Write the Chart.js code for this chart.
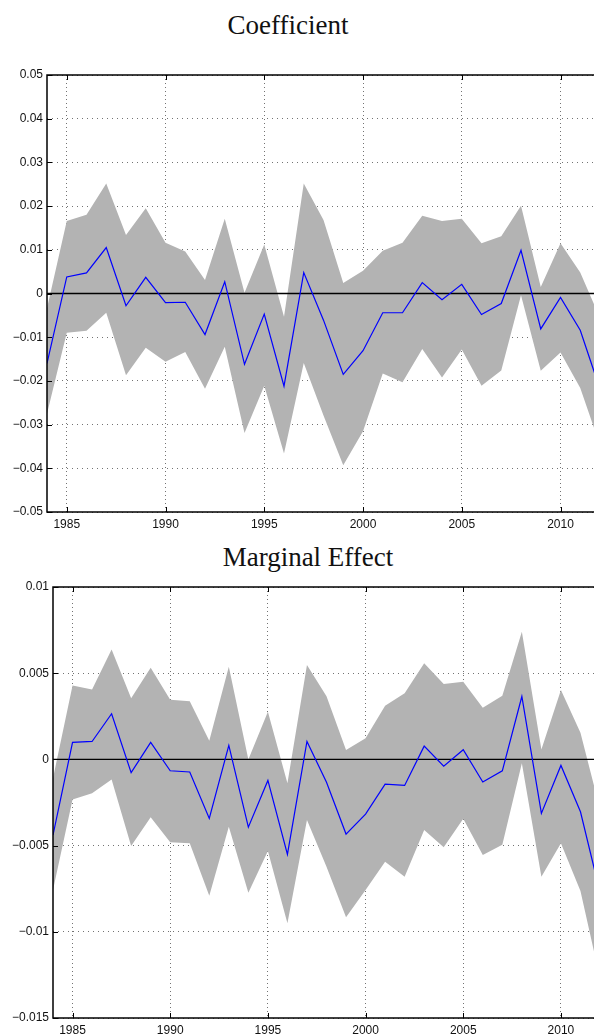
<!DOCTYPE html>
<html>
<head>
<meta charset="utf-8">
<script src="https://cdn.jsdelivr.net/npm/chart.js@4.4.1/dist/chart.umd.min.js"></script>
<style>
  html, body { margin: 0; padding: 0; background: #fff; }
  body { position: relative; width: 594px; height: 1036px; overflow: hidden; }
  canvas { position: absolute; left: 0; }
  .title {
    position: absolute; width: 300px; text-align: center;
    font-family: "Liberation Serif", serif; font-size: 27px; line-height: 27px; color: #111;
  }
</style>
</head>
<body>
<div class="title" style="left:138px; top:12px;">Coefficient</div>
<canvas id="coef" width="620" height="480" style="top:60px;"></canvas>
<div class="title" style="left:158px; top:544px;">Marginal Effect</div>
<canvas id="marg" width="620" height="461" style="top:575px;"></canvas>
<script>
const years = [1984, 1985, 1986, 1987, 1988, 1989, 1990, 1991, 1992, 1993, 1994, 1995, 1996, 1997, 1998,
  1999, 2000, 2001, 2002, 2003, 2004, 2005, 2006, 2007, 2008, 2009, 2010, 2011, 2012];
const xTicks = [1985, 1990, 1995, 2000, 2005, 2010];

// Coefficient: estimate and band
const coefMid = [-0.0160, 0.0038, 0.0047, 0.0105, -0.0028, 0.0037, -0.0021, -0.0020, -0.0094, 0.0027,
  -0.0162, -0.0047, -0.0212, 0.0048, -0.0061, -0.0185, -0.0131, -0.0044, -0.0044, 0.0025,
  -0.0014, 0.0021, -0.0048, -0.0023, 0.0099, -0.0081, -0.0009, -0.0084, -0.0219];
const coefUpper = [-0.0034, 0.0166, 0.0180, 0.0252, 0.0134, 0.0195, 0.0116, 0.0096, 0.0031, 0.0171,
  0.0002, 0.0112, -0.0053, 0.0252, 0.0168, 0.0024, 0.0052, 0.0098, 0.0116, 0.0178,
  0.0166, 0.0171, 0.0115, 0.0131, 0.0201, 0.0015, 0.0115, 0.0048, -0.0056];
const coefLower = [-0.0275, -0.0090, -0.0085, -0.0044, -0.0187, -0.0124, -0.0156, -0.0134, -0.0218, -0.0122,
  -0.0319, -0.0211, -0.0366, -0.0159, -0.0279, -0.0393, -0.0315, -0.0183, -0.0203, -0.0127,
  -0.0192, -0.0128, -0.0211, -0.0176, -0.0004, -0.0177, -0.0135, -0.0216, -0.0347];
const coefTicks = [-0.05, -0.04, -0.03, -0.02, -0.01, 0, 0.01, 0.02, 0.03, 0.04, 0.05];

// Marginal effect: estimate and band
const margMid = [-0.00439, 0.00099, 0.00104, 0.00265, -0.00077, 0.00099, -0.00066, -0.00073, -0.00342, 0.00081,
  -0.00393, -0.00122, -0.00551, 0.00104, -0.00133, -0.00433, -0.00317, -0.00143, -0.00151, 0.00077,
  -0.00039, 0.00056, -0.00131, -0.00066, 0.00365, -0.00313, -0.00035, -0.00304, -0.00771];
const margUpper = [-0.0011, 0.00429, 0.00406, 0.00638, 0.00354, 0.00532, 0.00346, 0.00338, 0.00108, 0.00538,
  0.0000, 0.00277, -0.00139, 0.00547, 0.00367, 0.00054, 0.00122, 0.00311, 0.00383, 0.00557,
  0.00437, 0.00451, 0.00300, 0.00369, 0.00741, 0.00058, 0.00402, 0.00155, -0.00288];
const margLower = [-0.00758, -0.00232, -0.00197, -0.00116, -0.00503, -0.00336, -0.00480, -0.00487, -0.00791, -0.00391,
  -0.00773, -0.00532, -0.00951, -0.00352, -0.00623, -0.00916, -0.00758, -0.00594, -0.00681, -0.00410,
  -0.00510, -0.00344, -0.00555, -0.00495, -0.00023, -0.00681, -0.00487, -0.00764, -0.0127];
const margTicks = [-0.015, -0.01, -0.005, 0, 0.005, 0.01];

function fmt(v) {
  if (Math.abs(v) < 1e-12) return '0';
  return parseFloat(v.toFixed(4)).toString().replace('-', '\u2212');
}

// box round the axes plus short inward tick marks
const boxPlugin = {
  id: 'box',
  afterDatasetsDraw(chart) {
    const { ctx, chartArea: a, scales: { x, y } } = chart;
    ctx.save();
    ctx.strokeStyle = '#000';
    ctx.lineWidth = 1.5;
    ctx.strokeRect(a.left, a.top, a.right - a.left, a.bottom - a.top);
    ctx.lineWidth = 1;
    ctx.beginPath();
    x.ticks.forEach(t => {
      const px = Math.round(x.getPixelForValue(t.value)) + 0.5;
      ctx.moveTo(px, a.bottom); ctx.lineTo(px, a.bottom - 5);
      ctx.moveTo(px, a.top); ctx.lineTo(px, a.top + 5);
    });
    y.ticks.forEach(t => {
      const py = Math.round(y.getPixelForValue(t.value)) + 0.5;
      ctx.moveTo(a.left, py); ctx.lineTo(a.left + 5, py);
      ctx.moveTo(a.right, py); ctx.lineTo(a.right - 5, py);
    });
    ctx.stroke();
    ctx.restore();
  }
};

const tickFont = { family: "'Liberation Sans', Arial, sans-serif", size: 12 };

function makeChart(id, mid, upper, lower, yTicks, axisW, axisH, padTop) {
  const toPts = arr => arr.map((v, i) => ({ x: years[i], y: v }));
  new Chart(document.getElementById(id), {
    type: 'line',
    data: {
      datasets: [
        { data: toPts(mid), borderColor: '#0000ff', borderWidth: 1.2, pointRadius: 0, tension: 0, fill: false, order: 0 },
        { data: years.map(yr => ({ x: yr, y: 0 })), borderColor: '#000', borderWidth: 1.3, pointRadius: 0, fill: false, order: 1 },
        { data: toPts(upper), borderWidth: 0, borderColor: 'rgba(0,0,0,0)', backgroundColor: '#b3b3b3',
          pointRadius: 0, tension: 0, fill: '+1', order: 2 },
        { data: toPts(lower), borderWidth: 0, borderColor: 'rgba(0,0,0,0)', pointRadius: 0, tension: 0, fill: false, order: 3 }
      ]
    },
    options: {
      responsive: false,
      animation: false,
      devicePixelRatio: 1,
      layout: { padding: { top: padTop, right: 20, left: 0, bottom: 0 } },
      plugins: { legend: { display: false }, tooltip: { enabled: false } },
      scales: {
        x: {
          type: 'linear',
          min: years[0],
          max: years[years.length - 1],
          afterBuildTicks: s => { s.ticks = xTicks.map(v => ({ value: v })); },
          afterFit: s => { s.height = axisH; },
          grid: { color: 'rgba(0,0,0,0.55)', lineWidth: 1, drawTicks: false },
          border: { display: false, dash: [1, 3] },
          ticks: { padding: 5, color: '#111', font: tickFont, callback: v => String(v), maxRotation: 0 }
        },
        y: {
          min: yTicks[0],
          max: yTicks[yTicks.length - 1],
          afterBuildTicks: s => { s.ticks = yTicks.map(v => ({ value: v })); },
          afterFit: s => { s.width = axisW; },
          grid: { color: 'rgba(0,0,0,0.55)', lineWidth: 1, drawTicks: false },
          border: { display: false, dash: [1, 4] },
          ticks: { padding: 4, color: '#111', font: tickFont, callback: v => fmt(v) }
        }
      }
    },
    plugins: [boxPlugin]
  });
}

makeChart('coef', coefMid, coefUpper, coefLower, coefTicks, 47, 28, 15);
makeChart('marg', margMid, margUpper, margLower, margTicks, 53, 18, 12);
</script>
</body>
</html>
